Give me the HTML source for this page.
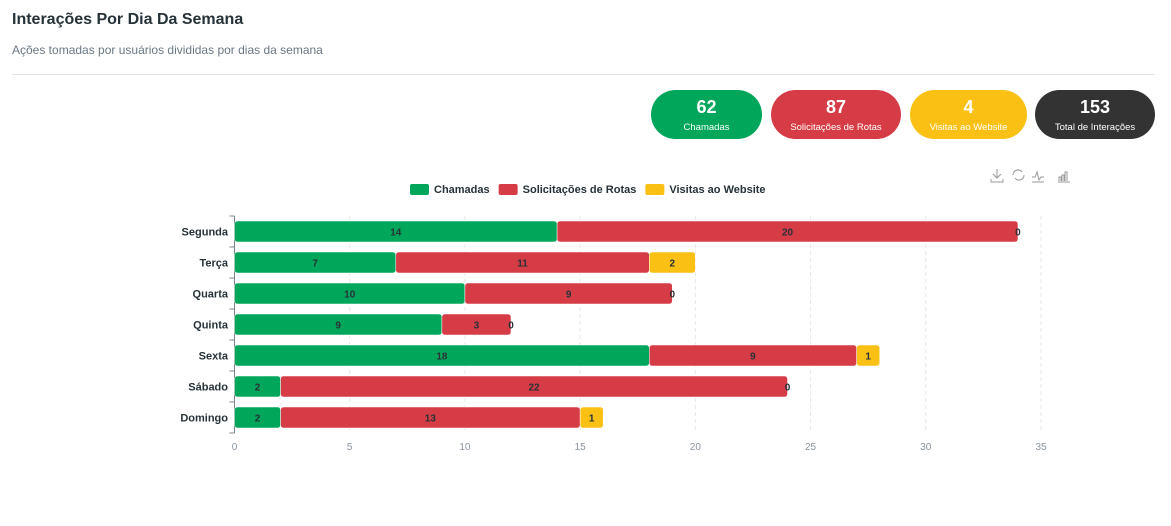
<!DOCTYPE html>
<html><head><meta charset="utf-8">
<style>
body{margin:0;width:1171px;height:526px;background:#fff;font-family:"Liberation Sans",sans-serif;overflow:hidden;position:relative}
.title{position:absolute;left:12px;top:11px;font-size:16px;font-weight:bold;color:#263238}
.sub{position:absolute;left:12px;top:43px;font-size:12px;color:#6b7785}
.hr{position:absolute;left:12px;top:74px;width:1143px;height:1px;background:#e3e3e3}
.pill{position:absolute;top:90px;height:49px;border-radius:25px;color:#fff;text-align:center}
.pill b{display:block;font-size:18px;margin-top:7px;line-height:20px}
.pill span{display:block;font-size:9.5px;margin-top:5px}
</style></head><body>
<div class="title">Interações Por Dia Da Semana</div>
<div class="sub">Ações tomadas por usuários divididas por dias da semana</div>
<div class="hr"></div>
<div class="pill" style="left:651px;width:111px;background:#00a65a"><b>62</b><span>Chamadas</span></div>
<div class="pill" style="left:771px;width:130px;background:#d63c45"><b>87</b><span>Solicitações de Rotas</span></div>
<div class="pill" style="left:910px;width:117px;background:#fbc014"><b>4</b><span>Visitas ao Website</span></div>
<div class="pill" style="left:1035px;width:120px;background:#333"><b>153</b><span>Total de Interações</span></div>
<svg id="c" width="1171" height="526" style="position:absolute;left:0;top:0"></svg>
<script>
const categories=["Segunda","Terça","Quarta","Quinta","Sexta","Sábado","Domingo"];
const seriesNames=["Chamadas","Solicitações de Rotas","Visitas ao Website"];
const chamadas=[14,7,10,9,18,2,2];
const rotas=[20,11,9,3,9,22,13];
const visitas=[0,2,0,0,1,0,1];
const xTicks=[0,5,10,15,20,25,30,35];
const colors=["#00a65a","#d63c45","#fbc014"];
const series=[chamadas,rotas,visitas];
const NS="http://www.w3.org/2000/svg";
const svg=document.getElementById('c');
const x0=234.5,xMax=35,pxW=1041-234.5,top0=216,band=31,bh=21;
const xs=v=>x0+v/xMax*pxW;
const yc=i=>top0+band*i+band/2;
function el(t,a,txt){const e=document.createElementNS(NS,t);for(const k in a)e.setAttribute(k,a[k]);if(txt!==undefined)e.textContent=txt;svg.appendChild(e);return e;}
xTicks.forEach(t=>{
 if(t>0){const g=el('line',{x1:xs(t),x2:xs(t),y1:top0,y2:top0+band*7,stroke:'#e6e6e6','stroke-dasharray':'4 3'});
 
 }
 const l=el('text',{x:xs(t),y:450,'text-anchor':'middle','font-size':10,fill:'#8a94a0'},t);
 
 
});
const ax=el('line',{x1:x0,x2:x0,y1:top0,y2:top0+band*7,stroke:'#78838c'});


for(let i=0;i<=7;i++){const tk=el('line',{x1:x0-5,x2:x0,y1:top0+band*i,y2:top0+band*i,stroke:'#78838c'});
 
 }
categories.forEach((c,i)=>{
 const l=el('text',{x:228,y:yc(i)+4,'text-anchor':'end','font-size':11,'font-weight':'bold',fill:'#263238'},c);
 
 
 let acc=0;
 series.forEach((s,k)=>{
  const v=s[i];const xa=xs(acc),xb=xs(acc+v);
  if(v>0){const r=el('rect',{x:xa,y:yc(i)-bh/2,width:xb-xa,height:bh,rx:3,fill:colors[k],stroke:'#fff','stroke-width':0.5});
   
   }
  const t=el('text',{x:(xa+xb)/2,y:yc(i)+4,'text-anchor':'middle','font-size':10,'font-weight':'bold',fill:'#263238'},v);
  
  
  acc+=v;
 });
});
let lx=410;
seriesNames.forEach((n,k)=>{
 const r=el('rect',{x:lx,y:184,width:19,height:11,rx:2,fill:colors[k]});
 
 
 const t=el('text',{x:lx+24,y:193,'font-size':11,'font-weight':'bold',fill:'#263238'},n);
 
 
 lx+=24+t.getComputedTextLength()+9;
});
</script>
<svg width="90" height="20" style="position:absolute;left:988px;top:166px" fill="none" stroke="#999" stroke-width="1">
<g><path d="M9 3v9M5 8l4 4 4-4M3 13v3h12v-3"/></g>
<g><path d="M25 9a5 5 0 0 1 9-3M36 9a5 5 0 0 1-9 3"/></g>
<g><path d="M44 11h3l2-5 2 8 2-3h3M44 16h12"/></g>
<g><path d="M70 16h12M71 15v-4h2v4M74 15v-6h2v6M77 15v-9h2v9"/></g>
</svg>
</body></html>
